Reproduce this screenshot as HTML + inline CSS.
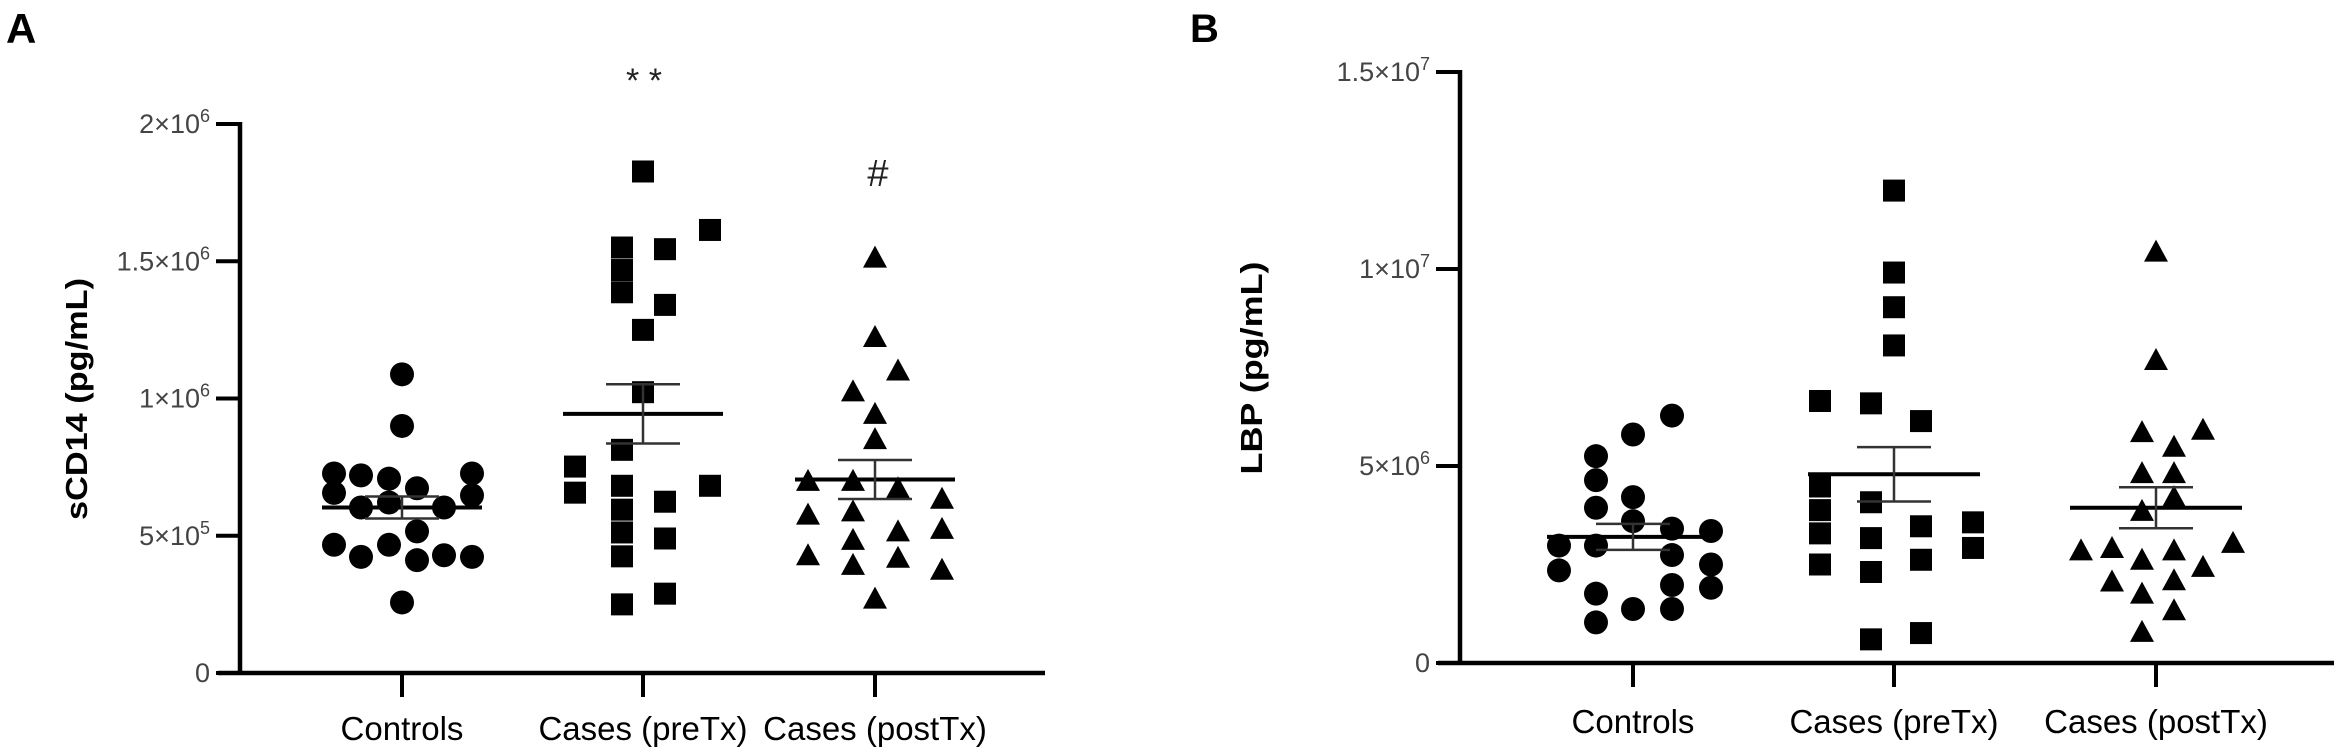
<!DOCTYPE html>
<html><head><meta charset="utf-8"><style>
html,body{margin:0;padding:0;background:#fff;}
svg{display:block;}
text{font-family:"Liberation Sans",Arial,sans-serif;}
</style></head><body>
<svg id="fig" width="2341" height="751" viewBox="0 0 2341 751" xmlns="http://www.w3.org/2000/svg">
<text x="6" y="43" font-size="42" font-weight="bold">A</text>
<text x="1190" y="42" font-size="40" font-weight="bold">B</text>
<g id="panelA"></g>
<g id="panelB"></g>
</svg>
<script>
const categories = ["Controls", "Cases (preTx)", "Cases (postTx)"];
// Panel A: sCD14 (pg/mL)
const aControls = [0.727e6,0.656e6,0.467e6,0.72e6,0.603e6,0.423e6,0.708e6,0.621e6,0.467e6,1.088e6,0.90e6,0.257e6,0.673e6,0.516e6,0.411e6,0.603e6,0.429e6,0.727e6,0.647e6,0.423e6];
const aPre = [1.827e6,1.55e6,1.468e6,1.387e6,1.544e6,1.614e6,1.341e6,1.25e6,1.023e6,0.813e6,0.682e6,0.595e6,0.512e6,0.425e6,0.624e6,0.49e6,0.289e6,0.682e6,0.25e6,0.752e6,0.657e6];
const aPost = [1.513e6,1.224e6,1.102e6,1.026e6,0.944e6,0.852e6,0.70e6,0.70e6,0.673e6,0.635e6,0.577e6,0.589e6,0.516e6,0.525e6,0.429e6,0.485e6,0.394e6,0.42e6,0.376e6,0.271e6];
const aMeans = [0.603e6, 0.944e6, 0.705e6];
const aSem = [0.04e6, 0.108e6, 0.071e6];
const aTicks = [0, 5e5, 1e6, 1.5e6, 2e6];
const aTickLabels = [["0",""],["5×10","5"],["1×10","6"],["1.5×10","6"],["2×10","6"]];
// Panel B: LBP (pg/mL)
const bControls = [6.28e6,5.80e6,5.25e6,4.64e6,4.21e6,3.94e6,3.60e6,3.41e6,3.35e6,2.98e6,2.98e6,2.74e6,2.35e6,2.50e6,1.91e6,1.98e6,1.76e6,1.37e6,1.37e6,1.03e6];
const bPre = [11.99e6,9.91e6,9.03e6,8.06e6,6.65e6,6.59e6,6.14e6,4.48e6,3.88e6,3.29e6,2.50e6,4.08e6,3.47e6,3.17e6,2.62e6,2.31e6,3.57e6,2.92e6,0.60e6,0.76e6];
const bPost = [10.44e6,7.69e6,5.86e6,5.92e6,5.49e6,4.82e6,4.82e6,4.21e6,3.86e6,2.86e6,2.92e6,2.62e6,2.86e6,3.05e6,2.44e6,2.07e6,2.10e6,1.76e6,1.34e6,0.79e6];
const bMeans = [3.20e6, 4.79e6, 3.94e6];
const bSem = [0.33e6, 0.69e6, 0.52e6];
const bTicks = [0, 5e6, 1e7, 1.5e7];
const bTickLabels = [["0",""],["5×10","6"],["1×10","7"],["1.5×10","7"]];

// layout (horizontal scatter offsets, px)
const jitA = [
 [-68,-68,-68,-41,-41,-41,-13,-13,-13,0,0,0,15,15,15,42,42,70,70,70],
 [0,-21,-21,-21,22,67,22,0,0,-21,-21,-21,-21,-21,22,22,22,67,-21,-68,-68],
 [0,0,23,-22,0,0,-67,-22,23,67,-67,-22,23,67,-67,-22,-22,23,67,0]];
const jitB = [
 [39,0,-37,-37,0,-37,0,39,78,-74,-37,39,-74,78,78,39,-37,0,39,-37],
 [0,0,0,0,-74,-23,27,-74,-74,-74,-74,-23,27,-23,27,-23,79,79,-23,27],
 [0,0,-14,47,18,-14,18,18,-14,-75,-44,-14,18,77,47,-44,18,-14,18,-14]];

const NS = "http://www.w3.org/2000/svg";
function mk(parent, tag, attrs){ const e=document.createElementNS(NS,tag); for(const k in attrs) e.setAttribute(k,attrs[k]); parent.appendChild(e); return e; }

function drawPanel(g, cfg){
  const yS = v => cfg.y0 - (v - 0) / cfg.yMax * (cfg.y0 - cfg.yTop);
  // axes
  const yax = mk(g,"line",{x1:cfg.ax,y1:cfg.yTop-2,x2:cfg.ax,y2:cfg.y0+2,stroke:"#000","stroke-width":4.5});
  
  
  const xax = mk(g,"line",{x1:cfg.ax-22,y1:cfg.y0,x2:cfg.xEnd,y2:cfg.y0,stroke:"#000","stroke-width":4.5});
  
  
  cfg.ticks.forEach((t,i)=>{
    const y=yS(t);
    const tk = mk(g,"line",{x1:cfg.ax-24,y1:y,x2:cfg.ax,y2:y,stroke:"#000","stroke-width":4});
    
    
    const tx = mk(g,"text",{x:cfg.ax-30,y:y+9,"font-size":27,fill:"#444","text-anchor":"end"});
    
    
    const lab = cfg.tickLabels[i];
    if(lab[1]){
      const b=document.createElementNS(NS,"tspan"); b.textContent=lab[0]; tx.appendChild(b);
      const s=document.createElementNS(NS,"tspan"); s.setAttribute("font-size","18"); s.setAttribute("dy","-11"); s.textContent=lab[1]; tx.appendChild(s);
    } else { tx.textContent = lab[0]; }
  });
  // y title
  const yt = mk(g,"text",{x:0,y:0,"font-size":31,"font-weight":"bold","text-anchor":"middle",transform:`translate(${cfg.titleX},${cfg.titleY}) rotate(-90)`,textLength:cfg.titleLen,lengthAdjust:"spacingAndGlyphs"});
  yt.textContent = cfg.title;
  
  
  const series=[cfg.s0,cfg.s1,cfg.s2];
  categories.forEach((c,ci)=>{
    const cx = cfg.xs[ci];
    const xt = mk(g,"line",{x1:cx,y1:cfg.y0,x2:cx,y2:cfg.y0+24,stroke:"#000","stroke-width":4});
    
    
    const xl = mk(g,"text",{x:cx,y:cfg.labY,"font-size":33,"text-anchor":"middle"});
    xl.textContent = c;
    
    
    series[ci].forEach((v,i)=>{
      const px = cx + cfg.jit[ci][i], py = yS(v);
      let m;
      if(ci===0) m = mk(g,"circle",{cx:px,cy:py,r:12,fill:"#000"});
      else if(ci===1) m = mk(g,"rect",{x:px-11,y:py-11,width:22,height:22,fill:"#000"});
      else m = mk(g,"polygon",{points:`${px},${py-12} ${px-12},${py+10} ${px+12},${py+10}`,fill:"#000"});
      
      
    });
    const my = yS(cfg.means[ci]), hi=yS(cfg.means[ci]+cfg.sem[ci]), lo=yS(cfg.means[ci]-cfg.sem[ci]);
    const ml = mk(g,"line",{x1:cx-cfg.mw,y1:my,x2:cx+cfg.mw,y2:my,stroke:"#000","stroke-width":4});
    
    
    const eb = mk(g,"path",{d:`M${cx-37},${hi}H${cx+37}M${cx-37},${lo}H${cx+37}M${cx},${hi}V${lo}`,stroke:"#333","stroke-width":2.5,fill:"none"});
    
    
  });
}

drawPanel(document.getElementById("panelA"),{ax:240,y0:673,yTop:124,yMax:2e6,xEnd:1045,ticks:aTicks,tickLabels:aTickLabels,
  title:"sCD14 (pg/mL)",titleX:87,titleY:399,titleLen:242,xs:[402,643,875],labY:740,s0:aControls,s1:aPre,s2:aPost,jit:jitA,means:aMeans,sem:aSem,mw:80});
drawPanel(document.getElementById("panelB"),{ax:1460,y0:663,yTop:72,yMax:1.5e7,xEnd:2334,ticks:bTicks,tickLabels:bTickLabels,
  title:"LBP (pg/mL)",titleX:1262,titleY:368,titleLen:213,xs:[1633,1894,2156],labY:733,s0:bControls,s1:bPre,s2:bPost,jit:jitB,means:bMeans,sem:bSem,mw:86});

const fig=document.getElementById("fig");
const st = mk(fig,"text",{x:644,y:92,"font-size":34,"text-anchor":"middle",fill:"#222"});
st.textContent="* *";


const hs = mk(fig,"text",{x:878,y:186,"font-size":38,"text-anchor":"middle",fill:"#222"});
hs.textContent="#";


</script>
</body></html>
